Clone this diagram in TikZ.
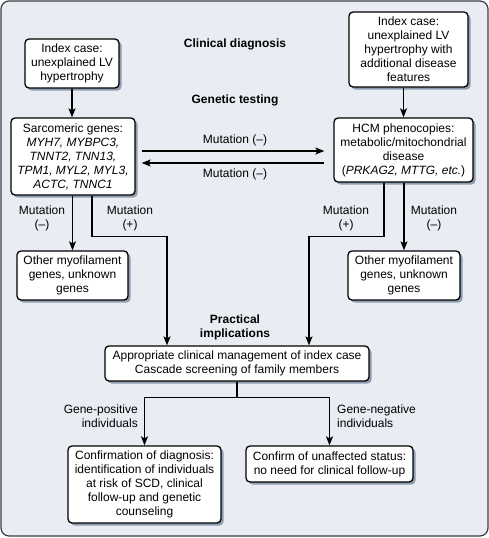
\documentclass[tikz,border=0pt]{standalone}
\usepackage{fontspec}
\setmainfont{Liberation Sans}
\usetikzlibrary{arrows.meta,shadows}
\definecolor{panelbg}{HTML}{E9EDF3}
\definecolor{shadowgrey}{HTML}{8E9CB0}
\definecolor{framegrey}{HTML}{3A3D42}
\begin{document}
\begin{tikzpicture}[x=1pt,y=-1pt,
  txt/.style={font=\fontsize{12}{14}\selectfont,align=center,inner sep=0pt},
  head/.style={txt,font=\fontsize{12}{14}\selectfont\bfseries},
  box/.style={txt,draw,line width=1.3pt,rounded corners=4pt,fill=white,
    drop shadow={shadow xshift=2.5pt,shadow yshift=-2.5pt,fill=shadowgrey,opacity=1}},
  arr/.style={-{Stealth[length=9pt,width=7pt,inset=2pt]},line width=1.3pt}]
\useasboundingbox (0,0) rectangle (489,538);
\draw[rounded corners=8pt,fill=panelbg,draw=framegrey,line width=1.2pt] (1,1) rectangle (488,536);
\node[box,minimum width=94pt,minimum height=49pt] (idxL) at (72,63.5) {Index case:\\unexplained LV\\hypertrophy};
\node[box,minimum width=119pt,minimum height=75pt] (idxR) at (408.5,49.5) {Index case:\\unexplained LV\\hypertrophy with\\additional disease\\features};
\node[box,minimum width=124pt,minimum height=77pt] (sarc) at (73,156.5) {Sarcomeric genes:\\\textit{MYH7, MYBPC3,}\\\textit{TNNT2, TNN13,}\\\textit{TPM1, MYL2, MYL3,}\\\textit{ACTC, TNNC1}};
\node[box,minimum width=139pt,minimum height=64pt] (hcm) at (403.5,150) {HCM phenocopies:\\metabolic/mitochondrial\\disease\\(\textit{PRKAG2, MTTG, etc.})};
\node[box,minimum width=111pt,minimum height=49pt] (othL) at (72.5,275.5) {Other myofilament\\genes, unknown\\genes};
\node[box,minimum width=112pt,minimum height=49pt] (othR) at (404,275.5) {Other myofilament\\genes, unknown\\genes};
\node[box,minimum width=264pt,minimum height=35pt] (mgmt) at (237,363.5) {Appropriate clinical management of index case\\Cascade screening of family members};
\node[box,minimum width=153pt,minimum height=77pt] (conf) at (144.5,484.5) {Confirmation of diagnosis:\\identification of individuals\\at risk of SCD, clinical\\follow-up and genetic\\counseling};
\node[box,minimum width=167pt,minimum height=36pt] (unaff) at (329.5,464) {Confirm of unaffected status:\\no need for clinical follow-up};
\node[head] (clin) at (235,44) {Clinical diagnosis};
\node[head] (gen) at (235,100) {Genetic testing};
\node[head] (prac) at (235,327.5) {Practical\\implications};
\node[txt] (mAtop) at (235,140) {Mutation (–)};
\node[txt] (mAbot) at (235,174) {Mutation (–)};
\node[txt] (mLneg) at (42,218.5) {Mutation\\(–)};
\node[txt] (mLpos) at (130,218.5) {Mutation\\(+)};
\node[txt] (mRpos) at (346,218.5) {Mutation\\(+)};
\node[txt] (mRneg) at (434,218.5) {Mutation\\(–)};
\node[txt,align=right,anchor=east] (gpos) at (138,416.5) {Gene-positive\\individuals};
\node[txt,align=left,anchor=west] (gneg) at (337,416.5) {Gene-negative\\individuals};
\draw[arr] (idxL.south) -- (idxL.south |- sarc.north);
\draw[arr] (hcm.north |- idxR.south) -- (hcm.north);
\draw[arr] ([xshift=6pt,yshift=5.5pt]sarc.east) -- ([xshift=-9pt,yshift=-1pt]hcm.west);
\draw[arr] ([xshift=-9pt,yshift=-13pt]hcm.west) -- ([xshift=6pt,yshift=-6.5pt]sarc.east);
\draw[arr] (othL.north |- sarc.south) -- (othL.north);
\draw[arr] (othR.north |- hcm.south) -- (othR.north);
\draw[arr] ([xshift=19pt]sarc.south) -- ++(0,41) -| ([xshift=-70pt]mgmt.north);
\draw[arr] ([xshift=-19.5pt]hcm.south) -- ++(0,54) -| ([xshift=72pt]mgmt.north);
\draw[arr] (mgmt.south) -- ++(0,16) -| (conf.north);
\draw[arr] (mgmt.south) ++(0,16) -| (unaff.north);
\end{tikzpicture}
\end{document}
